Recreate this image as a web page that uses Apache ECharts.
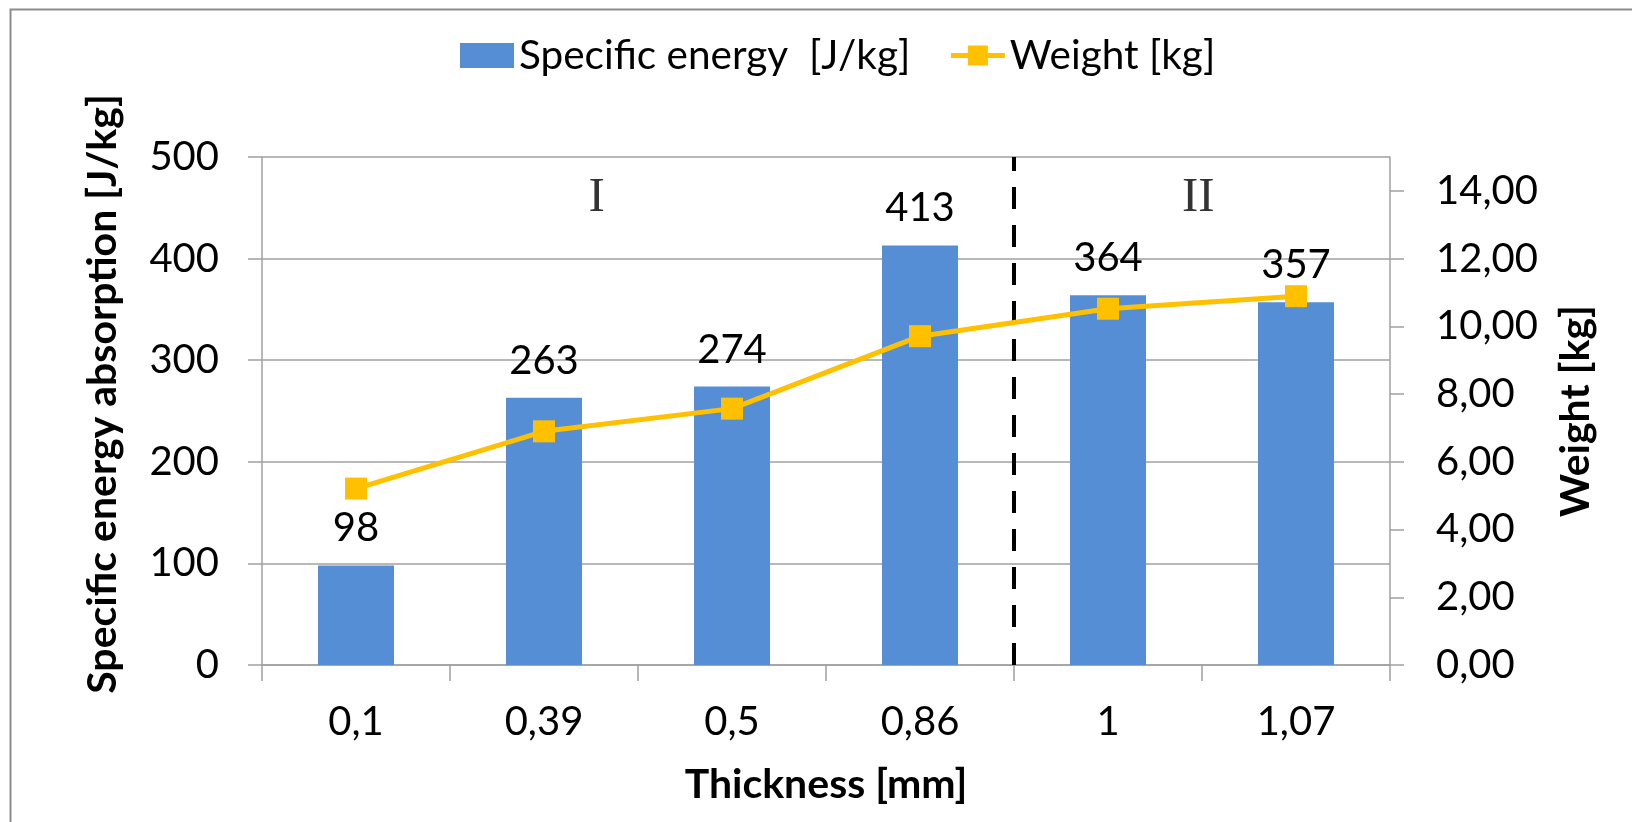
<!DOCTYPE html>
<html>
<head>
<meta charset="utf-8">
<script src="https://cdn.jsdelivr.net/npm/echarts@6/dist/echarts.min.js"></script>
<style>
html,body{margin:0;padding:0;background:#fff;}
#chart{width:1632px;height:822px;}
</style>
</head>
<body>
<div id="chart"></div>
<script>
const categories = ['0,1', '0,39', '0,5', '0,86', '1', '1,07'];
const specificEnergy = [98, 263, 274, 413, 364, 357];
const weight = [5.21, 6.90, 7.57, 9.71, 10.52, 10.89];
const rightTickValues = [0, 2, 4, 6, 8, 10, 12, 14];
const regionLabels = ['I', 'II'];
const regionX = [1.78, 4.98];
const regionY = [460, 460];
const dividerX = 4;

const FONT = 'Lato';
const GREY = '#A0A0A0';
const TICK_FS = 40;
const TITLE_FS = 41;

const chart = echarts.init(document.getElementById('chart'), null, {renderer: 'canvas'});

const option = {
  backgroundColor: '#ffffff',
  animation: false,
  textStyle: {fontFamily: FONT},
  graphic: [{
    type: 'rect', left: 8, top: 7, silent: true,
    shape: {width: 1700, height: 900},
    style: {fill: 'none', stroke: '#8C8C8C', lineWidth: 2}
  }],
  legend: {
    top: 30, left: 455,
    itemWidth: 54, itemHeight: 25, itemGap: 38,
    textStyle: {fontFamily: FONT, fontSize: 40.5, color: '#000'},
    data: [
      {name: 'Specific energy  [J/kg]', icon: 'rect'},
      {name: 'Weight [kg]', lineStyle: {width: 5, color: '#FFC000'}}
    ]
  },
  grid: {left: 262, right: 242, top: 157, bottom: 157, containLabel: false},
  xAxis: [{
    type: 'category', data: categories, position: 'bottom',
    axisLine: {lineStyle: {color: GREY, width: 1.5}},
    axisTick: {show: true, length: 16, lineStyle: {color: GREY, width: 1.5}},
    axisLabel: {color: '#000', fontSize: TICK_FS, fontFamily: FONT, margin: 37},
    name: 'Thickness [mm]', nameLocation: 'middle', nameGap: 99,
    nameTextStyle: {fontFamily: FONT, fontWeight: 'bold', fontSize: TITLE_FS, color: '#000'}
  }, {
    type: 'value', min: 0, max: 6, show: false
  }],
  yAxis: [{
    type: 'value', min: 0, max: 500, interval: 100, position: 'left',
    axisLine: {show: true, lineStyle: {color: GREY, width: 1.5}},
    axisTick: {show: true, length: 14, lineStyle: {color: GREY, width: 1.5}},
    splitLine: {show: true, lineStyle: {color: GREY, width: 1.5}},
    axisLabel: {color: '#000', fontSize: TICK_FS, fontFamily: FONT, margin: 43},
    name: 'Specific energy absorption [J/kg]', nameLocation: 'middle', nameGap: 139, nameRotate: 90,
    nameTextStyle: {fontFamily: FONT, fontWeight: 'bold', fontSize: TITLE_FS, color: '#000', padding: [0, 0, 0, 34]}
  }, {
    type: 'value', min: 0, max: 15, interval: 2, position: 'right',
    axisLine: {show: true, lineStyle: {color: GREY, width: 1.5}},
    axisTick: {show: true, length: 14, customValues: rightTickValues, lineStyle: {color: GREY, width: 1.5}},
    splitLine: {show: false},
    axisLabel: {
      color: '#000', fontSize: TICK_FS, fontFamily: FONT, margin: 46,
      customValues: rightTickValues,
      formatter: v => v.toFixed(2).replace('.', ',')
    },
    name: 'Weight [kg]', nameLocation: 'middle', nameGap: 165, nameRotate: 90,
    nameTextStyle: {fontFamily: FONT, fontWeight: 'bold', fontSize: TITLE_FS, color: '#000'}
  }],
  series: [{
    name: 'Specific energy  [J/kg]', type: 'bar', data: specificEnergy,
    xAxisIndex: 0, yAxisIndex: 0, barWidth: 76,
    itemStyle: {color: '#558ED5'},
    label: {show: true, position: 'top', distance: 17, color: '#000', fontSize: TICK_FS, fontFamily: FONT}
  }, {
    name: 'Weight [kg]', type: 'line', data: weight,
    xAxisIndex: 0, yAxisIndex: 1,
    symbol: 'rect', symbolSize: 22,
    lineStyle: {color: '#FFC000', width: 5},
    itemStyle: {color: '#FFC000'},
    z: 5
  }, {
    name: 'regions', type: 'scatter', xAxisIndex: 1, yAxisIndex: 0,
    data: regionLabels.map((t, i) => [regionX[i], regionY[i], t]),
    symbolSize: 1, itemStyle: {color: 'rgba(0,0,0,0)'}, silent: true,
    label: {show: true, position: 'inside', formatter: p => p.data[2],
      fontFamily: 'Liberation Serif', fontSize: 49, color: '#000'},
    markLine: {
      silent: true, symbol: 'none', label: {show: false},
      lineStyle: {color: '#000', width: 4, type: [22, 16]},
      data: [{xAxis: dividerX}]
    }
  }]
};
chart.setOption(option);
</script>
</body>
</html>
